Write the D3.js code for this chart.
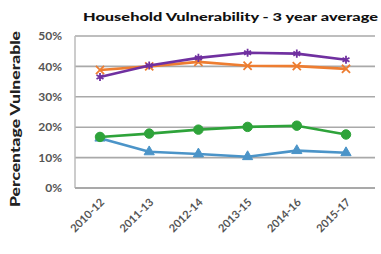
<!DOCTYPE html>
<html>
<head>
<meta charset="utf-8">
<script src="https://cdn.jsdelivr.net/npm/d3@7"></script>
<style>
  body { margin: 0; background: #fff; }
  text { font-family: "Lato", "Open Sans", sans-serif; }
</style>
</head>
<body>
<script>
'use strict';

var width = 381,
    height = 254;

// chart values
var periods = ["2010-12", "2011-13", "2012-14", "2013-15", "2014-16", "2015-17"];
var purpleVals = [36.5, 40.3, 42.8, 44.5, 44.2, 42.2];
var orangeVals = [38.8, 40.0, 41.5, 40.2, 40.1, 39.2];
var greenVals  = [16.8, 17.9, 19.2, 20.1, 20.5, 17.6];
var blueVals   = [16.4, 11.9, 11.2, 10.3, 12.3, 11.6];
var yTicks = [0, 10, 20, 30, 40, 50];

var series = [
  {name: "orange", values: orangeVals, color: "#ED7D31", marker: "x"},
  {name: "purple", values: purpleVals, color: "#7030A0", marker: "star"},
  {name: "blue",   values: blueVals,   color: "#4B94C8", marker: "triangle"},
  {name: "green",  values: greenVals,  color: "#2EA33A", marker: "circle"}
];

var margin = {top: 36, right: 9, bottom: 66, left: 75};

var svg = d3.select("body").append("svg")
    .attr("width", width)
    .attr("height", height);

var x = d3.scalePoint()
    .domain(periods)
    .range([100, 346]);

var y = d3.scaleLinear()
    .domain([0, 50])
    .range([height - margin.bottom, margin.top]);

// title
svg.append("text")
    .attr("x", 83)
    .attr("y", 21)
    .attr("textLength", 295)
    .attr("lengthAdjust", "spacingAndGlyphs")
    .style("font-size", "12px")
    .style("font-weight", "900")
    .style("fill", "#111")
    .text("Household Vulnerability - 3 year average");

// gridlines
svg.append("g")
    .selectAll("line")
    .data(yTicks.filter(function(d) { return d > 0; }))
    .enter().append("line")
        .attr("x1", margin.left)
        .attr("x2", width - 6)
        .attr("y1", function(d) { return y(d); })
        .attr("y2", function(d) { return y(d); })
        .attr("stroke", "#a9a9a9")
        .attr("stroke-width", 1.6);

// axes lines
svg.append("line")
    .attr("x1", margin.left).attr("x2", margin.left)
    .attr("y1", y(50)).attr("y2", y(0))
    .attr("stroke", "#bbb").attr("stroke-width", 1.5);
svg.append("line")
    .attr("x1", margin.left).attr("x2", width - 6)
    .attr("y1", y(0)).attr("y2", y(0))
    .attr("stroke", "#a9a9a9").attr("stroke-width", 1.8);

// y tick labels
svg.append("g")
    .selectAll("text")
    .data(yTicks)
    .enter().append("text")
        .attr("x", 62)
        .attr("y", function(d) { return y(d); })
        .attr("dy", "0.35em")
        .style("text-anchor", "end")
        .style("font-size", "12px")
        .style("font-weight", "bold")
        .style("fill", "#555")
        .text(function(d) { return d + "%"; });

// y axis title
svg.append("text")
    .attr("transform", "translate(20,119) rotate(-90)")
    .attr("textLength", 176)
    .attr("lengthAdjust", "spacingAndGlyphs")
    .style("text-anchor", "middle")
    .style("font-size", "13px")
    .style("font-weight", "900")
    .style("fill", "#222")
    .text("Percentage Vulnerable");

// x tick labels
svg.append("g")
    .selectAll("text")
    .data(periods)
    .enter().append("text")
        .attr("transform", function(d) {
          return "translate(" + (x(d) + 5) + "," + (y(0) + 15) + ") rotate(-45)";
        })
        .style("text-anchor", "end")
        .style("font-size", "11px")
        .style("font-weight", "bold")
        .style("fill", "#555")
        .text(function(d) { return d; });

var line = d3.line()
    .x(function(d, i) { return x(periods[i]); })
    .y(function(d) { return y(d); });

var groups = svg.append("g")
    .attr("class", "series")
    .selectAll("g")
    .data(series)
    .enter().append("g");

groups.append("path")
    .attr("d", function(d) { return line(d.values); })
    .attr("fill", "none")
    .attr("stroke", function(d) { return d.color; })
    .attr("stroke-width", 2.6)
    .attr("stroke-linejoin", "round");

var shapes = {
  x: d3.symbolX,
  star: d3.symbolAsterisk,
  triangle: d3.symbolTriangle,
  circle: d3.symbolCircle
};

groups.each(function(s) {
  d3.select(this).selectAll(".pt")
    .data(s.values)
    .enter().append("path")
      .attr("class", "pt")
      .attr("transform", function(d, i) {
        return "translate(" + x(periods[i]) + "," + y(d) + ")";
      })
      .attr("d", d3.symbol().type(shapes[s.marker]).size(s.marker === "circle" ? 70 : 45))
      .attr("fill", s.marker === "x" || s.marker === "star" ? "none" : s.color)
      .attr("stroke", s.color)
      .attr("stroke-width", s.marker === "x" || s.marker === "star" ? 1.8 : 1);
});
</script>
</body>
</html>
